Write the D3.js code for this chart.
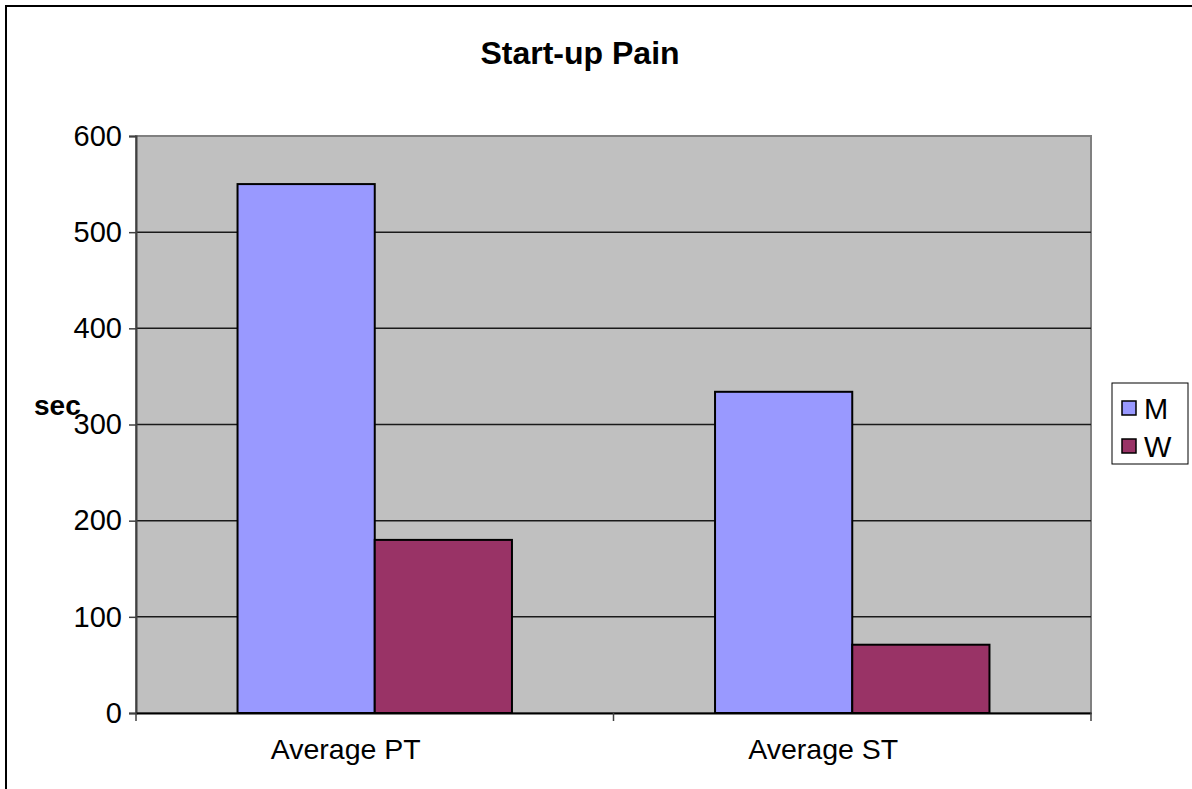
<!DOCTYPE html>
<html>
<head>
<meta charset="utf-8">
<script src="https://cdn.jsdelivr.net/npm/d3@7"></script>
<style>
  body { margin: 0; background: #fff; }
  text { font-family: "Liberation Sans", Arial, sans-serif; }
</style>
</head>
<body>
<div id="chart"></div>
<script>
// chart data
const categories = ["Average PT", "Average ST"];
const seriesNames = ["M", "W"];
const valuesM = [550, 334];
const valuesW = [180, 71];
const yTicks = [0, 100, 200, 300, 400, 500, 600];
const colors = { M: "#9999ff", W: "#993366" };

const width = 1192, height = 789;
const plot = { left: 136, right: 1091, top: 136, bottom: 713 };

const svg = d3.select("#chart")
  .append("svg")
  .attr("width", width)
  .attr("height", height);

// outer chart frame (runs off the right and bottom edge)
svg.append("rect")
  .attr("x", 6)
  .attr("y", 6)
  .attr("width", 1250)
  .attr("height", 850)
  .attr("fill", "#fff")
  .attr("stroke", "#000")
  .attr("stroke-width", 2);

const x0 = d3.scaleBand()
  .domain(categories)
  .range([plot.left, plot.right])
  .padding(0);

const x1 = d3.scaleBand()
  .domain(seriesNames)
  .range([0, x0.bandwidth()])
  .paddingInner(0)
  .paddingOuter(0.74);

const y = d3.scaleLinear()
  .domain([0, 600])
  .range([plot.bottom, plot.top]);

// plot background
svg.append("rect")
  .attr("x", plot.left)
  .attr("y", plot.top)
  .attr("width", plot.right - plot.left)
  .attr("height", plot.bottom - plot.top)
  .attr("fill", "#c0c0c0")
  .attr("stroke", "#808080")
  .attr("stroke-width", 2);

// gridlines
svg.append("g")
  .selectAll("line")
  .data(yTicks.filter(d => d > 0 && d < 600))
  .join("line")
  .attr("x1", plot.left)
  .attr("x2", plot.right)
  .attr("y1", d => y(d))
  .attr("y2", d => y(d))
  .attr("stroke", "#1a1a1a")
  .attr("stroke-width", 1.5);

// bars
const rows = categories.map((c, i) => ({ cat: c, M: valuesM[i], W: valuesW[i] }));

svg.append("g")
  .selectAll("g")
  .data(rows)
  .join("g")
  .attr("transform", d => `translate(${x0(d.cat)},0)`)
  .selectAll("rect")
  .data(d => seriesNames.map(s => ({ s, v: d[s] })))
  .join("rect")
  .attr("x", d => x1(d.s))
  .attr("y", d => y(d.v))
  .attr("width", x1.bandwidth())
  .attr("height", d => y(0) - y(d.v))
  .attr("fill", d => colors[d.s])
  .attr("stroke", "#000")
  .attr("stroke-width", 2);

// y axis
const yAxis = svg.append("g")
  .attr("transform", `translate(${plot.left},0)`)
  .call(d3.axisLeft(y).tickValues(yTicks).tickSize(7).tickPadding(7));
yAxis.select(".domain").attr("stroke", "#404040").attr("stroke-width", 2);
yAxis.selectAll(".tick line").attr("stroke", "#404040").attr("stroke-width", 1.5);
yAxis.selectAll(".tick text")
  .attr("font-size", 29)
  .attr("fill", "#000")
  .attr("font-family", "Liberation Sans, Arial, sans-serif");

// x axis
const xAxis = svg.append("g")
  .attr("transform", `translate(0,${plot.bottom})`)
  .call(d3.axisBottom(x0).tickSize(0).tickPadding(26));
xAxis.select(".domain").attr("stroke", "#000").attr("stroke-width", 2);
xAxis.selectAll(".tick text")
  .attr("x", -29)
  .attr("font-size", 28.5)
  .attr("fill", "#000")
  .attr("font-family", "Liberation Sans, Arial, sans-serif");

// category boundary ticks
svg.append("g")
  .selectAll("line")
  .data([...categories.map(c => x0(c)), plot.right])
  .join("line")
  .attr("x1", d => d)
  .attr("x2", d => d)
  .attr("y1", plot.bottom)
  .attr("y2", plot.bottom + 8)
  .attr("stroke", "#404040")
  .attr("stroke-width", 1.5);

// title
svg.append("text")
  .attr("x", 580)
  .attr("y", 64)
  .attr("text-anchor", "middle")
  .attr("font-size", 32)
  .attr("font-weight", "bold")
  .text("Start-up Pain");

// y axis title
svg.append("text")
  .attr("x", 34)
  .attr("y", 415)
  .attr("font-size", 28)
  .attr("font-weight", "bold")
  .text("sec");

// legend
const legend = svg.append("g").attr("transform", "translate(1112,383)");
legend.append("rect")
  .attr("width", 76)
  .attr("height", 81)
  .attr("fill", "#fff")
  .attr("stroke", "#000")
  .attr("stroke-width", 1);
const items = legend.selectAll("g.item")
  .data(seriesNames)
  .join("g")
  .attr("class", "item")
  .attr("transform", (d, i) => `translate(10,${25 + i * 38})`);
items.append("rect")
  .attr("x", 0)
  .attr("y", -7)
  .attr("width", 14)
  .attr("height", 14)
  .attr("fill", d => colors[d])
  .attr("stroke", "#000")
  .attr("stroke-width", 1.5);
items.append("text")
  .attr("x", 22)
  .attr("y", 11)
  .attr("font-size", 29)
  .text(d => d);
</script>
</body>
</html>
